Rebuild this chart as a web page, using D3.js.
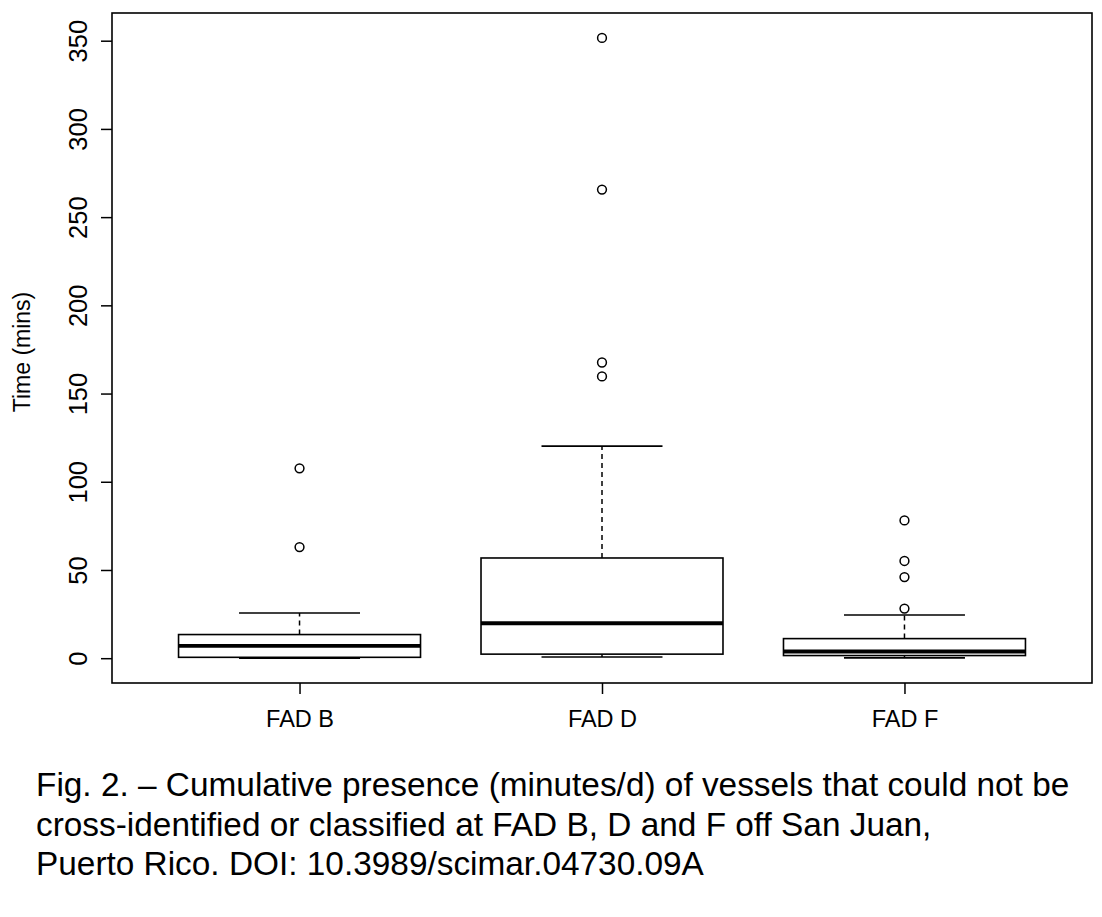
<!DOCTYPE html>
<html><head><meta charset="utf-8">
<script src="https://cdn.jsdelivr.net/npm/d3@7"></script>
<style>body{margin:0;background:#fff;} svg{display:block;} text{font-family:"Liberation Sans",Arial,Helvetica,sans-serif;fill:#000;}</style>
</head><body>
<svg id="c" width="1102" height="917"></svg>
<script>
const categories = ["FAD B", "FAD D", "FAD F"];
const lowerWhisker = [0, 0.7, 0.2];
const q1 = [0.5, 2.3, 1.5];
const median = [7.0, 19.8, 3.8];
const q3 = [13.4, 56.8, 11.1];
const upperWhisker = [25.6, 120.2, 24.5];
const outliers = [[63.0, 107.6], [159.7, 167.6, 265.6, 351.6], [28.1, 46.0, 55.1, 78.1]];
const yTicks = [0, 50, 100, 150, 200, 250, 300, 350];
const yTitle = "Time (mins)";
const captionLines = [
  "Fig. 2. \u2013 Cumulative presence (minutes/d) of vessels that could not be",
  "cross-identified or classified at FAD B, D and F off San Juan,",
  "Puerto Rico. DOI: 10.3989/scimar.04730.09A"
];

const svg = d3.select("#c");
const L = 112, R = 1092, T = 13, B = 683;
const x = d3.scaleLinear().domain([0.38, 3.62]).range([L, R]);
const y = d3.scaleLinear().domain([-14.06, 365.7]).range([B, T]);

// y axis
const yAxis = d3.axisLeft(y).tickValues(yTicks).tickSize(11).tickPadding(0).tickFormat(d3.format("d"));
const gy = svg.append("g").attr("transform", `translate(${L},0)`).call(yAxis);
gy.select(".domain").remove();
gy.selectAll(".tick line").attr("stroke", "#000").attr("stroke-width", 1.5);
gy.selectAll(".tick text")
  .attr("x", null).attr("dy", null)
  .attr("text-anchor", "middle")
  .attr("transform", "translate(-25,0) rotate(-90)")
  .style("font-size", "25.5px");

// x axis
const xAxis = d3.axisBottom(x).tickValues([1, 2, 3]).tickSize(11).tickPadding(0).tickFormat((d, i) => categories[i]);
const gx = svg.append("g").attr("transform", `translate(0,${B})`).call(xAxis);
gx.select(".domain").remove();
gx.selectAll(".tick line").attr("stroke", "#000").attr("stroke-width", 1.5);
gx.selectAll(".tick text").attr("y", 44).attr("dy", null).style("font-size", "23.5px");

// plot frame
svg.append("rect").attr("x", L).attr("y", T).attr("width", R - L).attr("height", B - T)
  .attr("fill", "none").attr("stroke", "#000").attr("stroke-width", 1.6);

// y title
svg.append("text").attr("transform", `translate(30,${(T + B) / 2 + 4}) rotate(-90)`)
  .attr("text-anchor", "middle").style("font-size", "23px").text(yTitle);

// boxes
const bw = 0.8, cw = 0.4;
categories.forEach((c, i) => {
  const cx = i + 1;
  const g = svg.append("g");
  g.append("line").attr("x1", x(cx)).attr("x2", x(cx)).attr("y1", y(q3[i])).attr("y2", y(upperWhisker[i]))
    .attr("stroke", "#000").attr("stroke-width", 1.5).attr("stroke-dasharray", "5,4");
  g.append("line").attr("x1", x(cx)).attr("x2", x(cx)).attr("y1", y(q1[i])).attr("y2", y(lowerWhisker[i]))
    .attr("stroke", "#000").attr("stroke-width", 1.5).attr("stroke-dasharray", "5,4");
  [upperWhisker[i], lowerWhisker[i]].forEach(v => {
    g.append("line").attr("x1", x(cx - cw / 2)).attr("x2", x(cx + cw / 2)).attr("y1", y(v)).attr("y2", y(v))
      .attr("stroke", "#000").attr("stroke-width", 1.6);
  });
  g.append("rect").attr("x", x(cx - bw / 2)).attr("width", x(cx + bw / 2) - x(cx - bw / 2))
    .attr("y", y(q3[i])).attr("height", y(q1[i]) - y(q3[i]))
    .attr("fill", "#fff").attr("stroke", "#000").attr("stroke-width", 1.6);
  g.append("line").attr("x1", x(cx - bw / 2)).attr("x2", x(cx + bw / 2)).attr("y1", y(median[i])).attr("y2", y(median[i]))
    .attr("stroke", "#000").attr("stroke-width", 3.8);
  g.selectAll("circle").data(outliers[i]).enter().append("circle")
    .attr("cx", x(cx)).attr("cy", d => y(d)).attr("r", 4.4)
    .attr("fill", "none").attr("stroke", "#000").attr("stroke-width", 1.5);
});

// caption
const capBase = [796, 836, 875];
const cap = svg.append("g");
const t0 = cap.append("text").attr("x", 36).attr("y", capBase[0]).style("font-size", "30px").text(captionLines[0]);
const w = t0.node().getComputedTextLength();
const fs = 30 * 1034 / w;
t0.style("font-size", fs + "px");
captionLines.slice(1).forEach((s, k) => {
  cap.append("text").attr("x", 36).attr("y", capBase[k + 1]).style("font-size", fs + "px").text(s);
});
</script>
</body></html>
